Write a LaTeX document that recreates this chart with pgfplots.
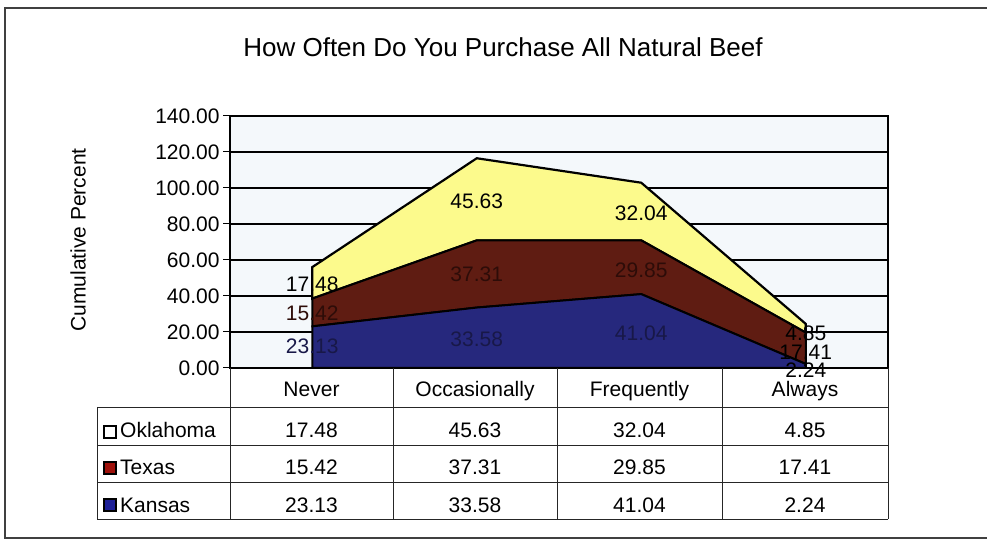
\documentclass[border=0pt]{standalone}
\usepackage{pgfplots}
\pgfplotsset{compat=1.18}
\usepackage{pgfplotstable}
\usepackage{fontspec}
\setmainfont{Liberation Sans}
\definecolor{okla}{RGB}{252,250,140}
\definecolor{texas}{RGB}{95,28,18}
\definecolor{kansas}{RGB}{38,40,125}
\definecolor{plotbg}{RGB}{244,248,251}
\definecolor{texlab}{RGB}{45,12,8}
\definecolor{kanlab}{RGB}{24,24,72}
\newcommand\fs{\fontsize{21bp}{25bp}\selectfont}
\pgfplotstableread{
x val
0 23.13
1 33.58
2 41.04
3 2.24
}\kansasdata
\pgfplotstableread{
x val
0 15.42
1 37.31
2 29.85
3 17.41
}\texasdata
\pgfplotstableread{
x val
0 17.48
1 45.63
2 32.04
3 4.85
}\okladata
\begin{document}
\begin{tikzpicture}[x=1bp,y=1bp]
\path[use as bounding box] (0,0) rectangle (987,540);
\draw[line width=1.3bp, black!75] (987,532) -- (5,532) -- (5,2) -- (987,2);
\node[font=\fontsize{26bp}{31bp}\selectfont] at (503,493) {How Often Do You Purchase All Natural Beef};
\node[font=\fs, rotate=90] at (78,300) {Cumulative Percent};
\begin{axis}[at={(230bp,172bp)}, anchor=south west, scale only axis,
  width=658bp, height=252bp,
  xmin=-0.5, xmax=3.5, ymin=0, ymax=140, ytick={0,20,...,140}, xtick=\empty,
  stack plots=y,
  axis background/.style={fill=plotbg},
  ymajorgrids, major grid style={black, line width=1.1bp},
  axis line style={black, line width=1.1bp},
  tick style={black, line width=1bp}, major tick length=7bp, tick align=outside, ytick pos=left,
  yticklabel style={font=\fs, /pgf/number format/fixed, /pgf/number format/fixed zerofill, /pgf/number format/precision=2, /pgf/number format/assume math mode=true},
  clip=false]
\addplot[fill=kansas, draw=black, line width=2bp, mark=none] table[x=x,y=val] {\kansasdata} \closedcycle;
\addplot[fill=texas, draw=black, line width=2bp, mark=none] table[x=x,y=val] {\texasdata} \closedcycle;
\addplot[fill=okla, draw=black, line width=2.2bp, mark=none] table[x=x,y=val] {\okladata} \closedcycle;
% anchor points for data labels (centre of each band)
\coordinate (k0) at (axis cs:0,12);
\coordinate (t0) at (axis cs:0,30.4);
\coordinate (o0) at (axis cs:0,46.5);
\coordinate (k1) at (axis cs:1,16);
\coordinate (t1) at (axis cs:1,52);
\coordinate (o1) at (axis cs:1,92.5);
\coordinate (k2) at (axis cs:2,19.5);
\coordinate (t2) at (axis cs:2,54.5);
\coordinate (o2) at (axis cs:2,86);
\coordinate (k3) at (axis cs:3,-1);
\coordinate (t3) at (axis cs:3,9);
\coordinate (o3) at (axis cs:3,19.4);
\end{axis}
% data labels
\node[font=\fs, text=kanlab] at (k0) {23.13};
\node[font=\fs, text=texlab] at (t0) {15.42};
\node[font=\fs] at (o0) {17.48};
\node[font=\fs, text=kanlab] at (k1) {33.58};
\node[font=\fs, text=texlab] at (t1) {37.31};
\node[font=\fs] at (o1) {45.63};
\node[font=\fs, text=kanlab] at (k2) {41.04};
\node[font=\fs, text=texlab] at (t2) {29.85};
\node[font=\fs] at (o2) {32.04};
\node[font=\fs] at (o3) {4.85};
\node[font=\fs] at (t3) {17.41};
\node[font=\fs] at (k3) {2.24};
% data table
\draw[line width=0.9bp, black!85] (97,133) -- (888,133) (97,95) -- (888,95) (97,58) -- (888,58) (97,21) -- (888,21);
\draw[line width=0.9bp, black!85] (97,133) -- (97,21);
\foreach \xx in {230,393,557,722,888} {\draw[line width=0.9bp, black!85] (\xx,172) -- (\xx,21);}
\foreach \cx/\nm in {311.5/Never,475/Occasionally,639.5/Frequently,805/Always} {\node[font=\fs, anchor=base] at (\cx,143) {\nm};}
\foreach \cx/\a/\b/\c in {311.5/17.48/15.42/23.13, 475/45.63/37.31/33.58, 639.5/32.04/29.85/41.04, 805/4.85/17.41/2.24} {
  \node[font=\fs, anchor=base] at (\cx,102) {\a};
  \node[font=\fs, anchor=base] at (\cx,65) {\b};
  \node[font=\fs, anchor=base] at (\cx,27) {\c};
}
\draw[fill=white, draw=black, line width=1.5bp] (104,102) rectangle (116,114);
\draw[fill=texas!60!red, draw=black, line width=1.5bp] (104,66) rectangle (116,78);
\draw[fill=kansas!80!blue, draw=black, line width=1.5bp] (104,29) rectangle (116,41);
\node[font=\fs, anchor=base west, inner sep=0pt] at (120,102) {Oklahoma};
\node[font=\fs, anchor=base west, inner sep=0pt] at (120,65) {Texas};
\node[font=\fs, anchor=base west, inner sep=0pt] at (120,27) {Kansas};
\end{tikzpicture}
\end{document}
